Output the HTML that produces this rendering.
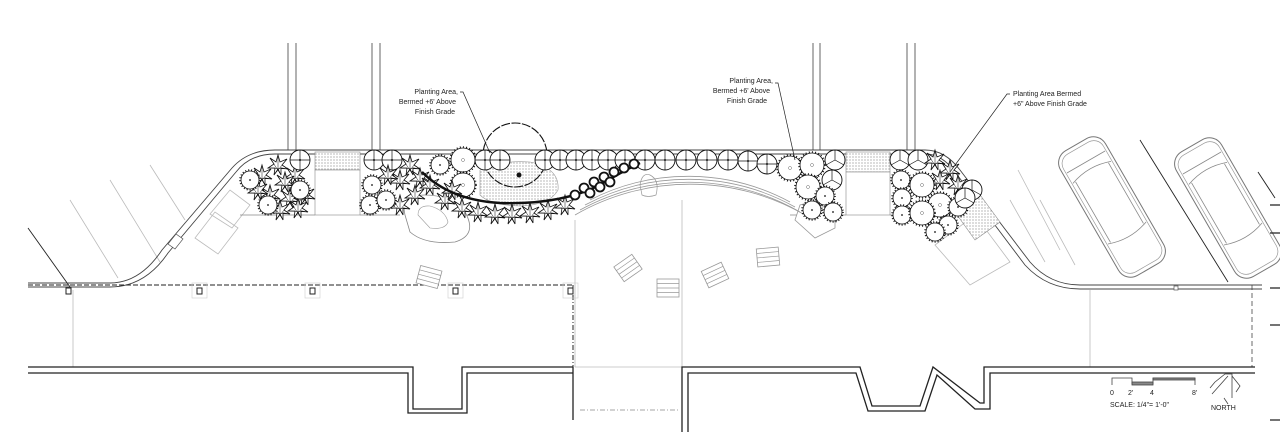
<!DOCTYPE html>
<html><head><meta charset="utf-8"><style>
html,body{margin:0;padding:0;background:#fff;}
svg{display:block;}
text{font-family:"Liberation Sans",sans-serif;fill:#222;}
</style></head><body>
<svg width="1280" height="447" viewBox="0 0 1280 447" xmlns="http://www.w3.org/2000/svg">
<defs>
<pattern id="dots" width="3" height="3" patternUnits="userSpaceOnUse"><rect width="3" height="3" fill="#fff"/><circle cx="1" cy="1" r="0.6" fill="#888"/></pattern>
<g id="spk"><circle r="9" fill="#fff" stroke="#111" stroke-width="0.8"/><circle r="10" fill="none" stroke="#111" stroke-width="1.6" stroke-dasharray="1 2"/><circle r="0.9" fill="#111"/></g>
<g id="spkL"><circle r="12" fill="#fff" stroke="#111" stroke-width="0.8"/><circle r="13" fill="none" stroke="#111" stroke-width="1.6" stroke-dasharray="1 2.2"/><circle r="1.5" fill="none" stroke="#666" stroke-width="0.5"/></g>
<g id="crs"><circle r="10" fill="#fff" stroke="#111" stroke-width="0.9"/><path d="M-10 0H10M0 -10V10" stroke="#111" stroke-width="0.7"/><circle r="1" fill="#111"/></g>
<g id="wedge"><circle r="10" fill="#fff" stroke="#111" stroke-width="0.9"/><path d="M0 0L0 -10M0 0L9 5M0 0L-9 5" stroke="#111" stroke-width="0.7"/></g>
<g id="star"><path d="M0 -10L2 -3L9 -6L4 0L10 4L3 3L3 10L0 4L-4 10L-3 3L-10 3L-4 -1L-8 -7L-2 -3Z" fill="#fff" stroke="#111" stroke-width="0.8"/><path d="M0 -10L0 4M-10 3L10 4M-8 -7L3 10M9 -6L-4 10" stroke="#111" stroke-width="0.5"/></g>
<g id="ring"><circle r="4.5" fill="#fff" stroke="#111" stroke-width="1.8"/></g>
<g id="car"><rect x="-72" y="-26" width="144" height="52" rx="14" fill="#fff" stroke="#777" stroke-width="1"/><rect x="-68" y="-23" width="136" height="46" rx="11" fill="none" stroke="#999" stroke-width="0.7"/><path d="M-40 -22Q-48 0 -40 22M30 -22Q38 0 30 22M-40 -19L30 -19M-40 19L30 19M-52 -22L-52 22" stroke="#888" fill="none" stroke-width="0.8"/></g>
<g id="bench"><rect x="-11" y="-9" width="22" height="18" fill="#fff" stroke="#999" stroke-width="0.8"/><path d="M-11 -4.5H11M-11 0H11M-11 4.5H11" stroke="#999" stroke-width="0.7"/></g>
</defs>

<g stroke="#666" stroke-width="1" fill="none">
<path d="M288 43V150M296 43V150M372 43V150M380 43V150M813 43V150M820 43V150M907 43V150M915 43V150"/>
</g>

<g stroke="#bbb" stroke-width="0.8" fill="none">
<path d="M70 200L118 278M110 180L160 262M150 165L185 220"/>
<path d="M195 238L215 212L238 228L218 254Z"/>
<path d="M210 214L230 190L250 205L232 228Z"/>
</g>
<path d="M28 228L70 287" stroke="#222" stroke-width="0.9"/>

<g fill="none" stroke="#444" stroke-width="0.9">
<path d="M28 283H110Q140 283 162 250L232 168Q248 150 275 150H925Q945 150 960 170L1030 262Q1050 285 1080 285H1262"/>
<path d="M28 287H110Q145 287 168 253L236 172Q250 154 275 154H925Q942 154 955 172L1025 265Q1047 289 1080 289H1262"/>
</g>
<path d="M168 244l8 -10l7 5l-8 10z" fill="#fff" stroke="#555" stroke-width="0.7"/>

<g stroke="#bbb" stroke-width="0.8" fill="none">
<path d="M1018 170L1060 250M1040 200L1075 265M1010 200L1045 262"/>
<path d="M935 245L975 215L1010 262L970 285Z"/>
</g>
<path d="M1140 140L1228 282M1258 172L1275 198" stroke="#222" stroke-width="0.9"/>
<use href="#car" transform="translate(1112,207) rotate(60)"/>
<use href="#car" transform="translate(1228,208) rotate(60)"/>

<rect x="315" y="152" width="45" height="18" fill="url(#dots)" stroke="#888" stroke-width="0.6"/>
<rect x="315" y="170" width="45" height="45" fill="#fff" stroke="#888" stroke-width="0.6"/>
<rect x="846" y="152" width="44" height="20" fill="url(#dots)" stroke="#888" stroke-width="0.6"/>
<rect x="846" y="172" width="44" height="43" fill="#fff" stroke="#888" stroke-width="0.6"/>
<path d="M950 205L975 188L1000 222L975 240Z" fill="url(#dots)" stroke="#888" stroke-width="0.6"/>
<path d="M240 215H315M360 215H400M790 215H846M890 215H900" stroke="#888" stroke-width="0.7"/>

<path d="M405 215Q400 195 425 195Q450 195 465 212Q478 235 455 242Q425 245 410 232Z" fill="#fff" stroke="#888" stroke-width="0.8"/>
<path d="M418 215Q418 205 430 206Q445 210 448 222Q445 230 430 228Z" fill="none" stroke="#999" stroke-width="0.6"/>
<path d="M795 220L800 205L818 200L835 210L835 228L815 238Z" fill="#fff" stroke="#999" stroke-width="0.8"/>
<path d="M640 185Q642 172 650 175Q660 180 656 195Q648 198 642 195Z" fill="#fff" stroke="#999" stroke-width="0.7"/>

<g fill="none" stroke="#999" stroke-width="0.8">
<path d="M575 215A230 230 0 0 1 805 215"/>
<path d="M580 210A225 225 0 0 1 800 212"/>
<path d="M585 205A220 220 0 0 1 795 207"/>
<path d="M590 200A215 215 0 0 1 790 202"/>
</g>

<path d="M480 170Q500 160 530 162Q560 168 558 190Q550 205 520 206Q490 205 480 195Z" fill="url(#dots)" stroke="#999" stroke-width="0.6"/>
<circle cx="515" cy="155" r="32" fill="none" stroke="#111" stroke-width="1.1" stroke-dasharray="9 1.5"/>
<circle cx="519" cy="175" r="2.5" fill="#111"/>

<g>
<use href="#star" x="262" y="175"/><use href="#star" x="278" y="165"/><use href="#star" x="295" y="175"/>
<use href="#star" x="270" y="195"/><use href="#star" x="290" y="198"/><use href="#star" x="280" y="210"/><use href="#star" x="298" y="208"/>
<use href="#star" x="258" y="190"/><use href="#star" x="285" y="182"/><use href="#star" x="305" y="195"/>
<use href="#spk" x="250" y="180"/><use href="#crs" x="300" y="160"/><use href="#spk" x="300" y="190"/><use href="#spk" x="268" y="205"/>
</g>
<g>
<use href="#crs" x="374" y="160"/><use href="#crs" x="392" y="160"/>
<use href="#star" x="410" y="165"/><use href="#star" x="400" y="180"/><use href="#star" x="415" y="195"/><use href="#star" x="400" y="205"/>
<use href="#star" x="420" y="178"/><use href="#star" x="388" y="175"/>
<use href="#spk" x="372" y="185"/><use href="#spk" x="370" y="205"/><use href="#spk" x="386" y="200"/>
<use href="#spk" x="440" y="165"/><use href="#spkL" x="463" y="160"/><use href="#spkL" x="463" y="185"/>
<use href="#crs" x="485" y="160"/><use href="#crs" x="500" y="160"/><use href="#crs" x="545" y="160"/><use href="#crs" x="560" y="160"/>
<use href="#crs" x="576" y="160"/><use href="#crs" x="592" y="160"/><use href="#crs" x="608" y="160"/><use href="#crs" x="625" y="160"/>
<use href="#star" x="445" y="200"/><use href="#star" x="462" y="208"/><use href="#star" x="478" y="212"/><use href="#star" x="495" y="214"/>
<use href="#star" x="512" y="214"/><use href="#star" x="530" y="213"/><use href="#star" x="548" y="210"/><use href="#star" x="565" y="205"/>
<use href="#star" x="430" y="185"/><use href="#star" x="452" y="190"/>
<use href="#crs" x="645" y="160"/><use href="#crs" x="665" y="160"/><use href="#crs" x="686" y="160"/><use href="#crs" x="707" y="160"/>
<use href="#crs" x="728" y="160"/><use href="#crs" x="748" y="161"/><use href="#crs" x="767" y="164"/>
</g>
<path d="M422 172Q450 200 500 203Q560 205 600 185Q625 170 640 163" fill="none" stroke="#111" stroke-width="2.4"/>
<g>
<use href="#ring" x="575" y="195"/><use href="#ring" x="584" y="188"/><use href="#ring" x="594" y="182"/><use href="#ring" x="604" y="177"/><use href="#ring" x="614" y="172"/><use href="#ring" x="624" y="168"/><use href="#ring" x="634" y="164"/>
<use href="#ring" x="590" y="193"/><use href="#ring" x="600" y="187"/><use href="#ring" x="610" y="182"/>
</g>
<g>
<use href="#spkL" x="790" y="168"/><use href="#spkL" x="812" y="165"/><use href="#wedge" x="835" y="160"/><use href="#wedge" x="832" y="180"/>
<use href="#spkL" x="808" y="187"/><use href="#spk" x="825" y="196"/><use href="#spk" x="833" y="212"/><use href="#spk" x="812" y="210"/>
<use href="#wedge" x="900" y="160"/><use href="#wedge" x="918" y="160"/>
<use href="#star" x="935" y="160"/><use href="#star" x="950" y="170"/><use href="#star" x="940" y="180"/><use href="#star" x="958" y="185"/>
<use href="#spk" x="901" y="180"/><use href="#spk" x="902" y="198"/><use href="#spk" x="902" y="215"/>
<use href="#spkL" x="922" y="185"/><use href="#spkL" x="940" y="205"/><use href="#spkL" x="922" y="213"/>
<use href="#spk" x="958" y="207"/><use href="#spk" x="948" y="225"/><use href="#spk" x="935" y="232"/><use href="#wedge" x="972" y="190"/><use href="#wedge" x="965" y="198"/>
</g>

<g stroke="#bbb" stroke-width="0.8" fill="none">
<path d="M73 290V367M682 200V367M575 220V367M1090 290V367"/>
<path d="M575 367H682"/>
</g>
<path d="M1252 285V367" stroke="#444" stroke-width="0.8" stroke-dasharray="5 3"/>
<path d="M28 285H573" stroke="#222" stroke-width="1.1" stroke-dasharray="5 2"/>
<path d="M573 285V367" stroke="#222" stroke-width="1" stroke-dasharray="5 2 1 2"/>
<path d="M580 410H680" stroke="#888" stroke-width="0.8" stroke-dasharray="5 2 1 2"/>
<g fill="#fff" stroke="#222" stroke-width="1"><rect x="66" y="288" width="5" height="6"/><rect x="197" y="288" width="5" height="6"/><rect x="310" y="288" width="5" height="6"/><rect x="453" y="288" width="5" height="6"/><rect x="568" y="288" width="5" height="6"/></g>
<g fill="none" stroke="#ccc" stroke-width="0.6"><rect x="192" y="283" width="15" height="15"/><rect x="305" y="283" width="15" height="15"/><rect x="448" y="283" width="15" height="15"/><rect x="563" y="283" width="15" height="15"/></g>
<rect x="1174" y="286" width="4" height="4" fill="#fff" stroke="#555" stroke-width="0.7"/>

<use href="#bench" transform="translate(429,277) rotate(15)"/>
<use href="#bench" transform="translate(628,268) rotate(-35)"/>
<use href="#bench" transform="translate(668,288)"/>
<use href="#bench" transform="translate(715,275) rotate(-25)"/>
<use href="#bench" transform="translate(768,257) rotate(-5)"/>

<g fill="none" stroke="#222" stroke-width="1.3">
<path d="M28 367H413V409H462V367H573"/>
<path d="M28 373H408V413H467V373H573"/>
<path d="M682 432V367H860L872 406H920L933 367L980 403H984V367H1255"/>
<path d="M688 432V373H856L868 411H925L937 375L975 409H990V373H1255"/>
<path d="M573 367V420"/>
</g>

<path d="M1270 205H1280M1270 233H1280M1270 288H1280M1270 325H1280M1270 420H1280" stroke="#222" stroke-width="1.2"/>

<g fill="none" stroke="#444" stroke-width="0.8">
<path d="M1112 385V378H1132V384H1153V378H1195V385"/>
<rect x="1132" y="382" width="21" height="3" fill="#888"/>
<rect x="1153" y="378" width="42" height="2" fill="#888"/>
</g>
<text x="1110" y="395" font-size="7">0</text><text x="1128" y="395" font-size="7">2'</text><text x="1150" y="395" font-size="7">4</text><text x="1192" y="395" font-size="7">8'</text>
<text x="1110" y="407" font-size="7">SCALE: 1/4"= 1'-0"</text>
<g fill="none" stroke="#444" stroke-width="0.8"><path d="M1215 382L1225 374H1232V398M1228 376L1212 394M1232 376L1240 386L1236 392M1215 382L1210 388M1224 398L1228 404"/></g>
<text x="1211" y="410" font-size="7">NORTH</text>

<g font-size="7" text-anchor="end">
<text x="458" y="94">Planting Area,</text>
<text x="456" y="104">Bermed +6' Above</text>
<text x="455" y="114">Finish Grade</text>
<text x="773" y="83">Planting Area,</text>
<text x="770" y="93">Bermed +6' Above</text>
<text x="767" y="103">Finish Grade</text>
</g>
<g font-size="7"><text x="1013" y="96">Planting Area Bermed</text><text x="1013" y="106">+6" Above Finish Grade</text></g>
<g stroke="#222" stroke-width="0.7" fill="none">
<path d="M460 92H463L490 153"/>
<path d="M775 83H778L795 160"/>
<path d="M1010 94H1007L950 172"/>
</g>
</svg>
</body></html>
